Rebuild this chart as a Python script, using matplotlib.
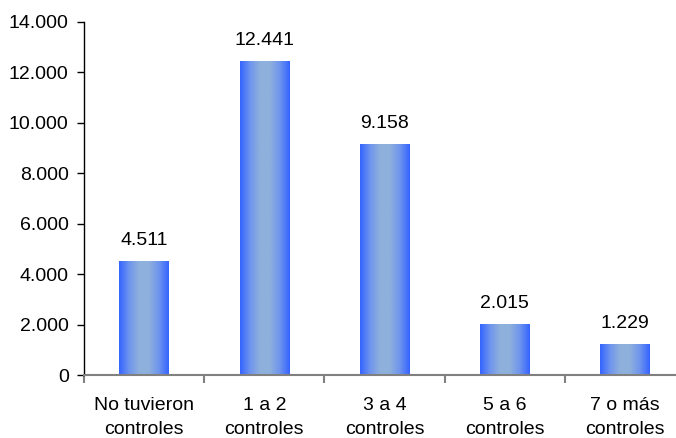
import matplotlib
matplotlib.use("Agg")
import matplotlib.pyplot as plt
import numpy as np
from matplotlib.colors import LinearSegmentedColormap

plt.rcParams['font.family'] = ['Liberation Sans', 'DejaVu Sans']

categories = ["No tuvieron\ncontroles", "1 a 2\ncontroles", "3 a 4\ncontroles",
              "5 a 6\ncontroles", "7 o más\ncontroles"]
values = [4511, 12441, 9158, 2015, 1229]
value_labels = ["4.511", "12.441", "9.158", "2.015", "1.229"]
yticks = [0, 2000, 4000, 6000, 8000, 10000, 12000, 14000]
ytick_labels = ["0", "2.000", "4.000", "6.000", "8.000", "10.000", "12.000", "14.000"]

W, H = 676, 438
fig = plt.figure(figsize=(W / 100, H / 100), dpi=100)
ax = fig.add_axes([84 / W, (H - 375) / H, 601 / W, 353 / H])

x = np.arange(len(values))
bw = 0.41
cmap = LinearSegmentedColormap.from_list(
    "g", ["#3364FF", "#6E94EE", "#8EB0DC", "#8EB0DC", "#6E94EE", "#3364FF"])
grad = np.linspace(0, 1, 256).reshape(1, -1)

bars = ax.bar(x, values, width=bw, color='none', edgecolor='none')
for b in bars:
    x0, y0 = b.get_x(), b.get_y()
    w, h = b.get_width(), b.get_height()
    ax.imshow(grad, extent=[x0, x0 + w, y0, y0 + h], aspect='auto',
              cmap=cmap, zorder=2, interpolation='bilinear')

for xi, v, lab in zip(x, values, value_labels):
    ax.annotate(lab, (xi, v), xytext=(0, 9), textcoords='offset points',
                ha='center', va='bottom', fontsize=14)

ax.set_xlim(-0.5, len(values) - 0.5)
ax.set_ylim(0, 14000)
ax.set_yticks(yticks)
ax.set_yticklabels(ytick_labels, fontsize=14)

ax.set_xticks(x)
ax.set_xticklabels(categories, fontsize=14, linespacing=1.52)
ax.tick_params(axis='x', length=0, pad=16)
ax.set_xticks(np.arange(len(values) + 1) - 0.5, minor=True)
ax.tick_params(axis='x', which='minor', length=6, color='#808080', width=1.5, direction='out')
ax.tick_params(axis='y', length=5, width=1, color='black', direction='out', pad=6)

for s in ['top', 'right']:
    ax.spines[s].set_visible(False)
ax.spines['left'].set_color('black')
ax.spines['left'].set_linewidth(1)
ax.spines['bottom'].set_color('#808080')
ax.spines['bottom'].set_linewidth(1.5)
ax.spines['bottom'].set_zorder(3)

fig.savefig("out.png", dpi=100)
